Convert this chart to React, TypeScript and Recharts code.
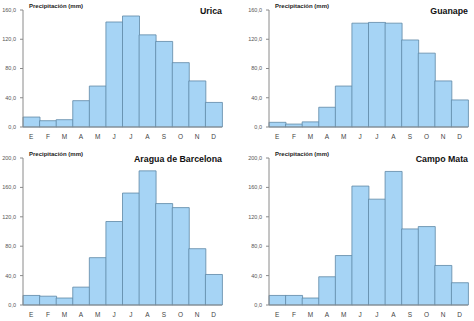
import React from "react";
import { BarChart, Bar, XAxis, YAxis } from "recharts";

const months = ["E", "F", "M", "A", "M", "J", "J", "A", "S", "O", "N", "D"];
const urica = [13.6, 8.6, 10, 36, 56, 143.6, 151.8, 126, 117, 88, 63, 33.6];
const guanape = [6.4, 4, 7, 27, 56, 142, 143, 142, 119, 101, 63, 37];
const aragua = [13, 12, 9.5, 24.3, 64.4, 113.6, 152.3, 182.5, 138, 132.5, 76.6, 41.5];
const campoMata = [13, 13, 9.5, 38.4, 67.3, 161.8, 144, 181.7, 103.5, 106.7, 53.8, 30.3];
const ticks160 = [0, 40, 80, 120, 160];
const ticks200 = [0, 40, 80, 120, 160, 200];

const toRows = (vals: number[]) => months.map((m, i) => ({ key: i, m, v: vals[i] }));

const fmt = (v: number) => v.toFixed(1).replace(".", ",");

type PanelProps = {
  title: string;
  values: number[];
  left: number;
  top: number;
  height: number;
  marginTop: number;
  marginBottom: number;
  yWidth: number;
  marginRight: number;
  max: number;
  ticks: number[];
};

function Panel(p: PanelProps) {
  const data = toRows(p.values);
  return (
    <div style={{ position: "absolute", left: p.left, top: p.top }}>
      <BarChart
        width={237}
        height={p.height}
        data={data}
        barCategoryGap={0}
        margin={{ top: p.marginTop, right: p.marginRight, left: 0, bottom: p.marginBottom }}
      >
        <XAxis
          dataKey="key"
          tickFormatter={(i: number) => months[i]}
          axisLine={{ stroke: "#8a8a8a" }}
          tickLine={false}
          tick={{ fontSize: 6.5, fill: "#444" }}
          tickMargin={1}
          height={14}
          interval={0}
        />
        <YAxis
          domain={[0, p.max]}
          ticks={p.ticks}
          width={p.yWidth}
          tickFormatter={fmt}
          axisLine={{ stroke: "#8a8a8a" }}
          tickLine={{ stroke: "#8a8a8a" }}
          tickSize={3}
          tick={{ fontSize: 5.5, fill: "#555" }}
          tickMargin={4}
        />
        <Bar dataKey="v" fill="#a6d4f5" stroke="#5e88a6" strokeWidth={0.8} isAnimationActive={false} />
      </BarChart>
      <div
        style={{
          position: "absolute",
          left: p.yWidth + 6,
          top: p.marginTop - 7,
          fontSize: 6,
          fontWeight: "bold",
          fontFamily: "Liberation Sans, Arial, sans-serif",
          color: "#222",
          whiteSpace: "nowrap",
        }}
      >
        Precipitación (mm)
      </div>
      <div
        style={{
          position: "absolute",
          left: 237 - p.marginRight - 200,
          width: 200,
          textAlign: "right",
          top: p.marginTop - 4,
          fontSize: 8.8,
          fontWeight: "bold",
          fontFamily: "Liberation Sans, Arial, sans-serif",
          color: "#111",
          whiteSpace: "nowrap",
        }}
      >
        {p.title}
      </div>
    </div>
  );
}

export default function App() {
  return (
    <div style={{ position: "absolute", left: 0, top: 0, width: 474, height: 321, background: "#fff", fontFamily: "Liberation Sans, Arial, sans-serif" }}>
      <Panel title="Urica" values={urica} left={0} top={0} height={150} marginTop={10} marginBottom={9} yWidth={23} marginRight={15} max={160} ticks={ticks160} />
      <Panel title="Guanape" values={guanape} left={237} top={0} height={150} marginTop={10} marginBottom={9} yWidth={32} marginRight={6} max={160} ticks={ticks160} />
      <Panel title="Aragua de Barcelona" values={aragua} left={0} top={150} height={171} marginTop={8} marginBottom={2} yWidth={23} marginRight={15} max={200} ticks={ticks200} />
      <Panel title="Campo Mata" values={campoMata} left={237} top={150} height={171} marginTop={8} marginBottom={2} yWidth={32} marginRight={6} max={200} ticks={ticks200} />
    </div>
  );
}
